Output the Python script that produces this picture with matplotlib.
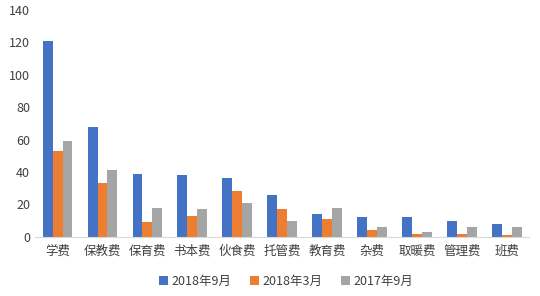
import matplotlib
matplotlib.use("Agg")
import matplotlib.pyplot as plt
import numpy as np

plt.rcParams['font.family'] = ['Noto Sans CJK SC', 'DejaVu Sans']

categories = ["学费", "保教费", "保育费", "书本费", "伙食费", "托管费", "教育费", "杂费", "取暖费", "管理费", "班费"]
s_2018_9 = [121, 68, 39, 38, 36, 26, 14, 12, 12, 10, 8]
s_2018_3 = [53, 33, 9, 13, 28, 17, 11, 4, 2, 2, 1]
s_2017_9 = [59, 41, 18, 17, 21, 10, 18, 6, 3, 6, 6]
series_names = ["2018年9月", "2018年3月", "2017年9月"]
colors = ["#4472C4", "#ED7D31", "#A5A5A5"]

fig = plt.figure(figsize=(5.4, 2.96), dpi=100)
ax = fig.add_axes([0.065, 0.2, 0.915, 0.766])

x = np.arange(len(categories))
w = 0.22
for i, (vals, name, c) in enumerate(zip([s_2018_9, s_2018_3, s_2017_9], series_names, colors)):
    ax.bar(x + (i - 1) * w, vals, width=w, color=c, label=name)

ax.set_xlim(-0.5, len(categories) - 0.5)
ax.set_ylim(0, 140)
ax.set_yticks(range(0, 141, 20))
for s in ["top", "right", "left"]:
    ax.spines[s].set_visible(False)
ax.spines["bottom"].set_color("#D9D9D9")
ax.tick_params(axis="both", length=0, labelsize=9, colors="#404040")
ax.tick_params(axis="x", pad=6)
ax.set_xticks(x)
ax.set_xticklabels(categories)

fig.legend(loc="lower center", bbox_to_anchor=(0.53, -0.01), ncol=3, frameon=False,
           fontsize=9, handlelength=0.7, handleheight=0.7, handletextpad=0.3,
           columnspacing=1.5, labelcolor="#404040")

fig.savefig("out.png", dpi=100)
